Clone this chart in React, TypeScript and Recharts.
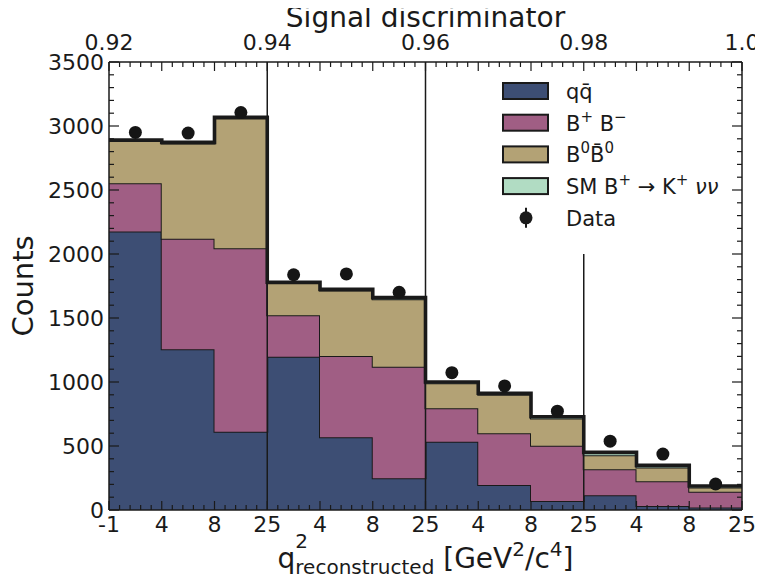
import React from 'react';
import { ComposedChart, Area, Line, XAxis, YAxis, ReferenceLine } from 'recharts';

// Bin-edge labels of q^2 (GeV^2/c^4), repeated for each discriminator slice
const binEdgeLabels = ['-1', '4', '8', '25', '4', '8', '25', '4', '8', '25', '4', '8', '25'];
// Signal discriminator values at every third bin edge
const discriminatorLabels = ['0.92', '0.94', '0.96', '0.98', '1.0'];

// Per-bin expected counts of each component
const qqbar = [2175, 1255, 612, 1198, 568, 248, 534, 195, 70, 115, 31, 20];
const chargedB = [377, 865, 1432, 323, 635, 872, 260, 404, 432, 203, 193, 123];
const neutralB = [332, 744, 1014, 250, 511, 527, 196, 301, 213, 110, 109, 33];
const signalSM = [6, 8, 10, 8, 10, 12, 10, 12, 14, 22, 16, 12];
// Observed counts per bin
const dataCounts = [2950, 2945, 3105, 1838, 1844, 1701, 1073, 969, 772, 538, 437, 203];

const yTicks = Array.from({ length: 36 }, (_, i) => i * 100);
const xTicks = Array.from({ length: 61 }, (_, i) => i / 5);

const FONT = '"DejaVu Sans", sans-serif';
const INK = '#1a1a1a';
const COLORS = {
  qq: '#3d4e74',
  bb: '#a05e84',
  b0: '#b3a275',
  sig: '#b1dcc3',
};

const W = 763;
const H = 585;
const MARGIN = { top: 22, right: 11, bottom: 35, left: 49 };
const PLOT_LEFT = 109;
const PLOT_RIGHT = 742;
const PLOT_TOP = 62;
const PLOT_BOTTOM = 510;

type Row = {
  x: number;
  qq: number;
  bb: number;
  b0: number;
  sig: number;
  total: number;
  data?: number;
};

// Step-histogram table: each bin contributes its left edge and centre; the last edge closes the step.
const rows: Row[] = [];
qqbar.forEach((_, i) => {
  const base = {
    qq: qqbar[i],
    bb: chargedB[i],
    b0: neutralB[i],
    sig: signalSM[i],
    total: qqbar[i] + chargedB[i] + neutralB[i] + signalSM[i],
  };
  rows.push({ x: i, ...base });
  rows.push({ x: i + 0.5, ...base, data: dataCounts[i] });
  if (i === qqbar.length - 1) rows.push({ x: i + 1, ...base });
});

const isWhole = (v: number) => Math.abs(v - Math.round(v)) < 1e-6;

const LeftTick = (props: any) => {
  const { x, y, payload } = props;
  const v = payload.value as number;
  const major = v % 500 === 0;
  return (
    <g>
      <line x1={x} x2={x + (major ? 10 : 5)} y1={y} y2={y} stroke={INK} strokeWidth={1.2} />
      {major && (
        <text x={x - 5} y={y + 8} textAnchor="end" fontSize={22} fontFamily={FONT} fill={INK}>
          {v}
        </text>
      )}
    </g>
  );
};

const RightTick = (props: any) => {
  const { x, y, payload } = props;
  const v = payload.value as number;
  const major = v % 500 === 0;
  return <line x1={x} x2={x - (major ? 10 : 5)} y1={y} y2={y} stroke={INK} strokeWidth={1.2} />;
};

const BottomTick = (props: any) => {
  const { x, y, payload } = props;
  const v = payload.value as number;
  const major = isWhole(v);
  return (
    <g>
      <line x1={x} x2={x} y1={y} y2={y - (major ? 9 : 5)} stroke={INK} strokeWidth={1.2} />
      {major && (
        <text x={x} y={y + 22} textAnchor="middle" fontSize={22} fontFamily={FONT} fill={INK}>
          {binEdgeLabels[Math.round(v)]}
        </text>
      )}
    </g>
  );
};

const TopTick = (props: any) => {
  const { x, y, payload } = props;
  const v = payload.value as number;
  const major = isWhole(v);
  const idx = Math.round(v);
  const labelled = major && idx % 3 === 0;
  return (
    <g>
      <line x1={x} x2={x} y1={y} y2={y + (major ? 9 : 5)} stroke={INK} strokeWidth={1.2} />
      {labelled && (
        <text x={x} y={y - 12} textAnchor="middle" fontSize={22} fontFamily={FONT} fill={INK}>
          {discriminatorLabels[idx / 3]}
        </text>
      )}
    </g>
  );
};

const TopTitle = () => (
  <text
    x={(PLOT_LEFT + PLOT_RIGHT) / 2}
    y={PLOT_TOP - 35}
    textAnchor="middle"
    fontSize={28}
    fontFamily={FONT}
    fill={INK}
  >
    Signal discriminator
  </text>
);

const BottomTitle = () => (
  <text
    x={(PLOT_LEFT + PLOT_RIGHT) / 2}
    y={PLOT_BOTTOM + 58}
    textAnchor="middle"
    fontSize={28}
    fontFamily={FONT}
    fill={INK}
  >
    q
    <tspan fontSize={20} dy={-20}>2</tspan>
    <tspan fontSize={20} dx={-12.7} dy={26}>reconstructed</tspan>
    <tspan dy={-6}> [GeV</tspan>
    <tspan fontSize={20} dy={-12}>2</tspan>
    <tspan dy={12}>/c</tspan>
    <tspan fontSize={20} dy={-12}>4</tspan>
    <tspan dy={12}>]</tspan>
  </text>
);

const LeftTitle = () => {
  const cx = 33;
  const cy = (PLOT_TOP + PLOT_BOTTOM) / 2;
  return (
    <text
      x={cx}
      y={cy}
      transform={`rotate(-90 ${cx} ${cy})`}
      textAnchor="middle"
      fontSize={29}
      fontFamily={FONT}
      fill={INK}
    >
      Counts
    </text>
  );
};

const SUP = 15;
const legendEntries: { key: string; color?: string; label: React.ReactNode }[] = [
  { key: 'qq', color: COLORS.qq, label: <>q{'q\u0304'}</> },
  {
    key: 'bb',
    color: COLORS.bb,
    label: (
      <>
        B<tspan fontSize={SUP} dy={-9}>+</tspan>
        <tspan dy={9}> B</tspan>
        <tspan fontSize={SUP} dy={-9}>−</tspan>
      </>
    ),
  },
  {
    key: 'b0',
    color: COLORS.b0,
    label: (
      <>
        B<tspan fontSize={SUP} dy={-9}>0</tspan>
        <tspan dy={9}>{'B\u0304'}</tspan>
        <tspan fontSize={SUP} dy={-9}>0</tspan>
      </>
    ),
  },
  {
    key: 'sig',
    color: COLORS.sig,
    label: (
      <>
        SM B<tspan fontSize={SUP} dy={-9}>+</tspan>
        <tspan dy={9}> → K</tspan>
        <tspan fontSize={SUP} dy={-9}>+</tspan>
        <tspan dy={9} fontStyle="italic"> νν</tspan>
      </>
    ),
  },
  { key: 'data', label: 'Data' },
];

// Overlay holding the legend and the axis titles, in page coordinates
const Overlay = () => (
  <svg
    width={W}
    height={H}
    style={{ position: 'absolute', left: 0, top: 0, overflow: 'visible', pointerEvents: 'none' }}
  >
    <TopTitle />
    <BottomTitle />
    <LeftTitle />
    {legendEntries.map((e, i) => {
      const cy = 91 + i * 31.7;
      return (
        <g key={e.key}>
          {e.color ? (
            <rect x={503} y={cy - 8} width={45} height={16} fill={e.color} stroke={INK} strokeWidth={2} />
          ) : (
            <g>
              <line x1={526} x2={526} y1={cy - 10} y2={cy + 10} stroke={INK} strokeWidth={2} />
              <circle cx={526} cy={cy} r={6.5} fill={INK} />
            </g>
          )}
          <text x={566} y={cy + 8} fontSize={21} fontFamily={FONT} fill={INK}>
            {e.label}
          </text>
        </g>
      );
    })}
  </svg>
);

export default function App() {
  return (
    <div style={{ position: 'relative', width: W, height: H, marginLeft: -8, marginTop: -8 }}>
      <ComposedChart width={W} height={H} data={rows} margin={MARGIN}>
        <Area
          type="stepAfter"
          dataKey="qq"
          stackId="mc"
          fill={COLORS.qq}
          fillOpacity={1}
          stroke={INK}
          strokeWidth={2}
          isAnimationActive={false}
        />
        <Area
          type="stepAfter"
          dataKey="bb"
          stackId="mc"
          fill={COLORS.bb}
          fillOpacity={1}
          stroke={INK}
          strokeWidth={2}
          isAnimationActive={false}
        />
        <Area
          type="stepAfter"
          dataKey="b0"
          stackId="mc"
          fill={COLORS.b0}
          fillOpacity={1}
          stroke={INK}
          strokeWidth={2}
          isAnimationActive={false}
        />
        <Area
          type="stepAfter"
          dataKey="sig"
          stackId="mc"
          fill={COLORS.sig}
          fillOpacity={1}
          stroke="#4d6b5c"
          strokeWidth={1.5}
          isAnimationActive={false}
        />
        <Line
          type="stepAfter"
          dataKey="total"
          stroke={INK}
          strokeWidth={3.6}
          dot={false}
          activeDot={false}
          isAnimationActive={false}
        />
        <ReferenceLine x={3} stroke={INK} strokeWidth={1.5} />
        <ReferenceLine x={6} stroke={INK} strokeWidth={1.5} />
        <ReferenceLine
          segment={[
            { x: 9, y: 0 },
            { x: 9, y: 2000 },
          ]}
          stroke={INK}
          strokeWidth={1.5}
        />
        <Line
          dataKey="data"
          stroke="none"
          dot={{ r: 6.5, fill: '#151515', stroke: 'none' }}
          activeDot={false}
          isAnimationActive={false}
        />
        <XAxis
          dataKey="x"
          type="number"
          domain={[0, 12]}
          ticks={xTicks}
          interval={0}
          height={40}
          tickSize={0}
          tickMargin={0}
          tick={<BottomTick />}
          axisLine={{ stroke: INK, strokeWidth: 1.5 }}
          allowDataOverflow
        />
        <XAxis
          xAxisId="top"
          orientation="top"
          dataKey="x"
          type="number"
          domain={[0, 12]}
          ticks={xTicks}
          interval={0}
          height={40}
          tickSize={0}
          tickMargin={0}
          tick={<TopTick />}
          axisLine={{ stroke: INK, strokeWidth: 1.5 }}
          allowDataOverflow
        />
        <YAxis
          type="number"
          domain={[0, 3500]}
          ticks={yTicks}
          interval={0}
          width={60}
          tickSize={0}
          tickMargin={0}
          tick={<LeftTick />}
          axisLine={{ stroke: INK, strokeWidth: 1.5 }}
          allowDataOverflow
        />
        <YAxis
          yAxisId="right"
          orientation="right"
          type="number"
          domain={[0, 3500]}
          ticks={yTicks}
          interval={0}
          width={10}
          tickSize={0}
          tickMargin={0}
          tick={<RightTick />}
          axisLine={{ stroke: INK, strokeWidth: 1.5 }}
          allowDataOverflow
        />
      </ComposedChart>
      <Overlay />
    </div>
  );
}
